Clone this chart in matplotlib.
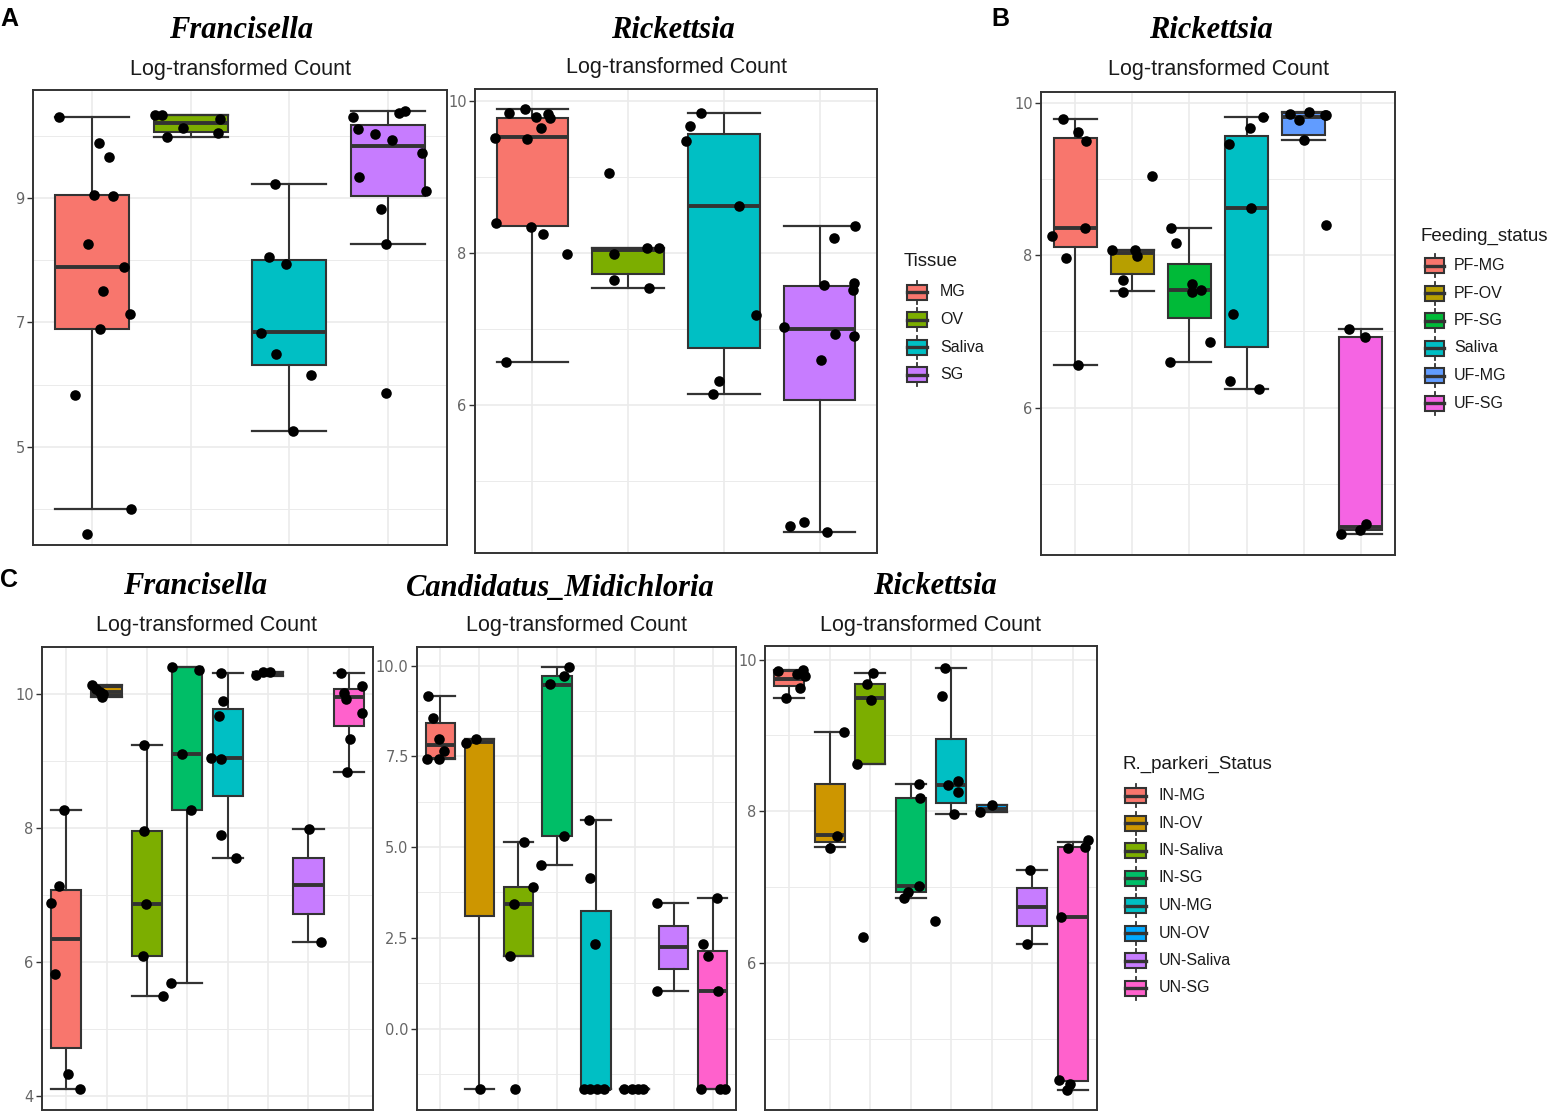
import matplotlib
matplotlib.use("Agg")
import matplotlib.pyplot as plt
from matplotlib.patches import Rectangle
from matplotlib.lines import Line2D

W, H = 1550, 1114

# ---------------- colours (ggplot hue palettes) ----------------
pal4 = ["#F8766D", "#7CAE00", "#00BFC4", "#C77CFF"]
pal6 = ["#F8766D", "#B79F00", "#00BA38", "#00BFC4", "#619CFF", "#F564E3"]
pal8 = ["#F8766D", "#CD9600", "#7CAE00", "#00BE67", "#00BFC4", "#00A9FF", "#C77CFF", "#FF61CC"]

# ---------------- Panel A (Tissue) ----------------
tissue_cats = ["MG", "OV", "Saliva", "SG"]

# A1: Francisella
A1_whishi = [10.31, 10.34, 9.23, 10.41]
A1_q3 = [9.05, 10.33, 8.01, 10.17]
A1_med = [7.89, 10.21, 6.84, 9.84]
A1_q1 = [6.89, 10.06, 6.32, 9.04]
A1_whislo = [4.00, 9.98, 5.25, 8.26]
A1_points = [
    [10.31, 9.89, 9.67, 9.05, 9.04, 8.26, 7.89, 7.51, 7.14, 6.89, 5.83, 4.00, 3.59],
    [10.33, 10.33, 10.13, 10.28, 10.05, 9.98],
    [9.23, 8.06, 7.94, 6.83, 6.49, 6.15, 5.25],
    [10.31, 10.37, 10.41, 10.12, 10.04, 9.94, 9.72, 9.34, 9.12, 8.82, 8.26, 5.86],
]
A1_jitter = [
    [-0.34, 0.07, 0.17, 0.02, 0.21, -0.04, 0.32, 0.11, 0.38, 0.08, -0.17, 0.39, -0.05],
    [-0.36, -0.29, -0.08, 0.30, 0.28, -0.24],
    [-0.14, -0.21, -0.03, -0.29, -0.13, 0.22, 0.04],
    [-0.35, 0.11, 0.17, -0.30, -0.13, 0.04, 0.35, -0.29, 0.39, -0.07, -0.02, -0.02],
]

# A2: Rickettsia
A2_whishi = [9.90, 8.07, 9.85, 8.36]
A2_q3 = [9.78, 8.07, 9.57, 7.57]
A2_med = [9.53, 8.04, 8.62, 7.00]
A2_q1 = [8.35, 7.73, 6.75, 6.07]
A2_whislo = [6.57, 7.54, 6.15, 4.32]
A2_points = [
    [9.85, 9.90, 9.79, 9.83, 9.78, 9.64, 9.52, 9.50, 8.40, 8.34, 8.25, 7.99, 6.57],
    [9.06, 7.99, 8.07, 8.07, 7.64, 7.54],
    [9.85, 9.67, 9.48, 8.62, 7.18, 6.31, 6.15],
    [8.36, 8.20, 7.58, 7.60, 7.51, 7.03, 6.93, 6.91, 6.59, 4.40, 4.46, 4.32],
]
A2_jitter = [
    [-0.24, -0.08, 0.04, 0.16, 0.18, 0.09, -0.39, -0.06, -0.38, -0.02, 0.11, 0.36, -0.28],
    [-0.20, -0.15, 0.20, 0.32, -0.15, 0.22],
    [-0.24, -0.35, -0.40, 0.16, 0.34, -0.05, -0.11],
    [0.37, 0.15, 0.05, 0.36, 0.35, -0.37, 0.16, 0.36, 0.01, -0.31, -0.16, 0.08],
]

# ---------------- Panel B (Feeding_status) ----------------
feed_cats = ["PF-MG", "PF-OV", "PF-SG", "Saliva", "UF-MG", "UF-SG"]
B_whishi = [9.79, 8.07, 8.36, 9.82, 9.89, 7.03]
B_q3 = [9.55, 8.07, 7.89, 9.57, 9.88, 6.93]
B_med = [8.36, 8.03, 7.54, 8.63, 9.82, 4.43]
B_q1 = [8.11, 7.76, 7.18, 6.79, 9.58, 4.39]
B_whislo = [6.56, 7.53, 6.60, 6.25, 9.52, 4.33]
B_points = [
    [9.79, 9.62, 9.50, 8.36, 8.25, 7.97, 6.56],
    [9.05, 8.07, 8.07, 7.99, 7.68, 7.52],
    [8.36, 8.17, 7.62, 7.52, 7.54, 6.86, 6.60],
    [9.82, 9.68, 9.47, 8.62, 7.23, 6.35, 6.25],
    [9.86, 9.78, 9.89, 9.85, 9.85, 9.52, 8.40],
    [7.03, 6.93, 4.47, 4.39, 4.33],
]
B_jitter = [
    [-0.21, 0.05, 0.19, 0.17, -0.41, -0.16, 0.04],
    [0.34, -0.35, 0.05, 0.09, -0.16, -0.16],
    [-0.32, -0.23, 0.05, 0.05, 0.20, 0.36, -0.34],
    [0.28, 0.06, -0.31, 0.08, -0.23, -0.29, 0.21],
    [-0.24, -0.09, 0.09, 0.37, 0.40, 0.01, 0.39],
    [-0.20, 0.07, 0.10, -0.01, -0.34],
]

# ---------------- Panel C (R._parkeri_Status) ----------------
status_cats = ["IN-MG", "IN-OV", "IN-Saliva", "IN-SG", "UN-MG", "UN-OV", "UN-Saliva", "UN-SG"]

# C1: Francisella
C1_whishi = [8.26, 10.13, 9.24, 10.40, 10.31, 10.33, 7.98, 10.31]
C1_q3 = [7.08, 10.10, 7.96, 10.40, 9.78, 10.32, 7.55, 10.07]
C1_med = [6.34, 10.03, 6.87, 9.10, 9.05, 10.31, 7.15, 9.95]
C1_q1 = [4.71, 9.98, 6.09, 8.26, 8.47, 10.28, 6.72, 9.52]
C1_whislo = [4.10, 9.95, 5.49, 5.68, 7.55, 10.27, 6.30, 8.83]
C1_points = [
    [8.27, 7.14, 6.88, 5.82, 4.33, 4.10],
    [10.13, 10.08, 10.03, 9.95, 10.00],
    [9.24, 7.96, 6.87, 6.09, 5.49],
    [10.40, 10.36, 9.10, 8.27, 5.68],
    [10.31, 9.89, 9.67, 9.05, 9.03, 7.89, 7.55],
    [10.28, 10.32, 10.32],
    [7.98, 6.30],
    [10.31, 10.12, 10.01, 9.92, 9.72, 9.33, 8.83],
]
C1_jitter = [
    [-0.05, -0.18, -0.37, -0.29, 0.05, 0.33],
    [-0.37, -0.25, -0.17, -0.12, -0.08],
    [-0.07, -0.08, -0.02, -0.10, 0.39],
    [-0.38, 0.28, -0.13, 0.09, -0.40],
    [-0.17, -0.12, -0.21, -0.41, -0.17, -0.17, 0.21],
    [-0.30, -0.12, 0.05],
    [0.02, 0.31],
    [-0.20, 0.32, -0.13, -0.07, 0.32, 0.02, -0.05],
]

# C2: Candidatus_Midichloria
C2_whishi = [9.17, 7.99, 5.13, 9.96, 5.75, -1.67, 3.46, 3.59]
C2_q3 = [8.42, 7.99, 3.90, 9.71, 3.23, -1.67, 2.84, 2.15]
C2_med = [7.82, 7.89, 3.44, 9.46, -1.67, -1.67, 2.26, 1.04]
C2_q1 = [7.45, 3.11, 2.01, 5.31, -1.67, -1.67, 1.64, -1.67]
C2_whislo = [7.43, -1.67, 2.01, 4.51, -1.67, -1.67, 1.04, -1.67]
C2_points = [
    [9.17, 8.56, 7.99, 7.64, 7.43, 7.43],
    [7.87, 7.99, -1.67],
    [5.13, 3.90, 3.44, 2.01, -1.67],
    [9.96, 9.72, 9.48, 5.31, 4.51],
    [5.75, 4.16, 2.33, -1.67, -1.67, -1.67, -1.67],
    [-1.67, -1.67, -1.67, -1.67],
    [3.46, 1.04],
    [3.59, 2.33, 2.01, 1.04, -1.67, -1.67, -1.67],
]
C2_jitter = [
    [-0.32, -0.20, -0.03, 0.10, -0.34, -0.04],
    [-0.33, -0.09, 0.03],
    [0.16, 0.37, -0.10, -0.22, -0.09],
    [0.30, 0.17, -0.17, 0.19, -0.40],
    [-0.17, -0.16, -0.02, -0.32, -0.15, 0.03, 0.20],
    [-0.29, -0.08, 0.09, 0.22],
    [-0.42, -0.42],
    [0.11, -0.26, -0.13, 0.15, -0.29, 0.20, 0.33],
]

# C3: Rickettsia
C3_whishi = [9.87, 9.05, 9.83, 8.36, 9.89, 8.08, 7.23, 7.60]
C3_q3 = [9.85, 8.36, 9.68, 8.17, 8.95, 8.08, 6.99, 7.53]
C3_med = [9.74, 7.69, 9.49, 7.02, 8.35, 8.03, 6.74, 6.61]
C3_q1 = [9.65, 7.60, 8.62, 6.93, 8.11, 7.99, 6.49, 4.44]
C3_whislo = [9.49, 7.53, 8.62, 6.86, 7.97, 7.99, 6.25, 4.33]
C3_points = [
    [9.85, 9.87, 9.81, 9.78, 9.62, 9.49],
    [9.05, 7.68, 7.52],
    [9.83, 9.68, 9.47, 8.62, 6.34],
    [8.36, 8.18, 7.02, 6.94, 6.86],
    [9.89, 9.52, 8.35, 8.40, 8.25, 7.97, 6.55],
    [7.99, 8.08],
    [7.23, 6.25],
    [7.62, 7.53, 7.52, 6.61, 4.46, 4.40, 4.33],
]
C3_jitter = [
    [-0.29, 0.35, 0.18, 0.39, 0.26, -0.07],
    [0.35, 0.18, 0.00],
    [0.06, -0.07, 0.01, -0.34, -0.17],
    [0.20, 0.24, 0.20, -0.07, -0.16],
    [-0.16, -0.22, -0.07, 0.17, 0.17, 0.07, -0.39],
    [-0.30, 0.00],
    [-0.06, -0.14],
    [0.37, 0.30, -0.11, -0.29, -0.33, -0.07, -0.15],
]

# ---------------- drawing ----------------
EDGE = "#333333"
GRID = "#EBEBEB"

fig = plt.figure(figsize=(W / 100, H / 100), dpi=100)


def px_axes(l, t, r, b):
    return fig.add_axes([l / W, 1 - b / H, (r - l) / W, (b - t) / H])


def draw_panel(ax, whislo, q1, med, q3, whishi, points, jitter, colors,
               ylim, major, minor, labels):
    n = len(med)
    stats = []
    for i in range(n):
        stats.append(dict(whislo=whislo[i], q1=q1[i], med=med[i], q3=q3[i],
                          whishi=whishi[i], fliers=[]))
    bp = ax.bxp(stats, positions=list(range(1, n + 1)), widths=0.75,
                capwidths=0.75, patch_artist=True, showfliers=False,
                boxprops=dict(edgecolor=EDGE, linewidth=1.5),
                medianprops=dict(color=EDGE, linewidth=2.8, solid_capstyle="butt"),
                whiskerprops=dict(color=EDGE, linewidth=1.5),
                capprops=dict(color=EDGE, linewidth=1.6))
    for patch, c in zip(bp["boxes"], colors):
        patch.set_facecolor(c)
    for i, (vals, jit) in enumerate(zip(points, jitter)):
        ax.scatter([i + 1 + j for j in jit], vals, s=58, color="black",
                   zorder=5, linewidths=0)
    ax.set_xlim(0.4, n + 0.6)
    ax.set_ylim(*ylim)
    ax.set_xticks(list(range(1, n + 1)))
    ax.set_xticklabels([])
    ax.tick_params(axis="x", length=0)
    ax.set_yticks(major)
    ax.set_yticklabels(labels)
    ax.set_yticks(minor, minor=True)
    ax.tick_params(axis="y", which="major", length=4, width=1, color=EDGE,
                   labelsize=10.5, labelcolor="#666666", pad=2)
    ax.tick_params(axis="y", which="minor", length=0)
    ax.grid(True, axis="y", which="major", color=GRID, linewidth=1.2, zorder=0)
    ax.grid(True, axis="y", which="minor", color=GRID, linewidth=0.7, zorder=0)
    ax.grid(True, axis="x", which="major", color=GRID, linewidth=1.2, zorder=0)
    ax.set_axisbelow(True)
    for s in ax.spines.values():
        s.set_color(EDGE)
        s.set_linewidth(1.4)


axA1 = px_axes(33, 90, 447, 545)
draw_panel(axA1, A1_whislo, A1_q1, A1_med, A1_q3, A1_whishi, A1_points, A1_jitter,
           pal4, (3.42, 10.74), [5, 7, 9], [4, 6, 8, 10], ["5", "7", "9"])

axA2 = px_axes(475, 89, 877, 553)
draw_panel(axA2, A2_whislo, A2_q1, A2_med, A2_q3, A2_whishi, A2_points, A2_jitter,
           pal4, (4.05, 10.16), [6, 8, 10], [5, 7, 9], ["6", "8", "10"])

axB = px_axes(1041, 92, 1395, 555)
draw_panel(axB, B_whislo, B_q1, B_med, B_q3, B_whishi, B_points, B_jitter,
           pal6, (4.06, 10.15), [6, 8, 10], [5, 7, 9], ["6", "8", "10"])

axC1 = px_axes(42, 647, 373, 1110)
draw_panel(axC1, C1_whislo, C1_q1, C1_med, C1_q3, C1_whishi, C1_points, C1_jitter,
           pal8, (3.79, 10.70), [4, 6, 8, 10], [5, 7, 9], ["4", "6", "8", "10"])

axC2 = px_axes(417, 647, 736, 1110)
draw_panel(axC2, C2_whislo, C2_q1, C2_med, C2_q3, C2_whishi, C2_points, C2_jitter,
           pal8, (-2.24, 10.51), [0, 2.5, 5, 7.5, 10], [-1.25, 1.25, 3.75, 6.25, 8.75],
           ["0.0", "2.5", "5.0", "7.5", "10.0"])

axC3 = px_axes(765, 646, 1097, 1110)
draw_panel(axC3, C3_whislo, C3_q1, C3_med, C3_q3, C3_whishi, C3_points, C3_jitter,
           pal8, (4.06, 10.18), [6, 8, 10], [5, 7, 9], ["6", "8", "10"])

# ---------------- overlay for text and legends ----------------
ov = fig.add_axes([0, 0, 1, 1], zorder=10)
ov.set_xlim(0, W)
ov.set_ylim(H, 0)
ov.axis("off")
ov.patch.set_alpha(0)

TITLE = dict(family="Liberation Serif", weight="bold", style="italic", size=22,
             ha="center", va="center", color="black")
SUB = dict(family="Liberation Sans", size=15.5, ha="center", va="center", color="#1a1a1a")
LETTER = dict(family="Liberation Sans", weight="bold", size=18, ha="left", va="center",
              color="black")

titles = [("Francisella", 241, 31, 240, 69),
          ("Rickettsia", 673, 31, 676, 68),
          ("Rickettsia", 1211, 31, 1218, 70),
          ("Francisella", 195, 587, 207, 626),
          ("Candidatus_Midichloria", 560, 588, 576, 626),
          ("Rickettsia", 935, 586, 931, 626)]
for t, tx, ty, sx, sy in titles:
    ov.text(tx, ty, t, **TITLE)
    ov.text(sx, sy, "Log-transformed Count", **SUB)

ov.text(0, 19, "A", **LETTER)
ov.text(991, 19, "B", **LETTER)
ov.text(0, 580, "C", **LETTER)


def legend(title, tx, ty, cats, colors, kx0, kx1, ys, lx):
    ov.text(tx, ty, title, family="Liberation Sans", size=13.5, ha="left",
            va="center", color="#1a1a1a")
    for c, col, y in zip(cats, colors, ys):
        ov.add_patch(Rectangle((kx0, y - 7.5), kx1 - kx0, 15, facecolor=col,
                               edgecolor=EDGE, linewidth=1.5, zorder=3))
        xm = (kx0 + kx1) / 2
        ov.add_line(Line2D([kx0, kx1], [y, y], color=EDGE, linewidth=2.4, zorder=4))
        ov.add_line(Line2D([xm, xm], [y - 11.5, y - 7.5], color=EDGE, linewidth=1.3))
        ov.add_line(Line2D([xm, xm], [y + 7.5, y + 11.5], color=EDGE, linewidth=1.3))
        ov.text(lx, y, c, family="Liberation Sans", size=11.5, ha="left",
                va="center", color="#1a1a1a")


legend("Tissue", 904, 262, tissue_cats, pal4, 907, 927,
       [292, 319.5, 347, 374.5], 940)
legend("Feeding_status", 1421, 236, feed_cats, pal6, 1425, 1444,
       [265.5, 293, 320.5, 348, 375.5, 403], 1454)
legend("R._parkeri_Status", 1122, 764, status_cats, pal8, 1125, 1146,
       [795.5, 823, 850.5, 878, 905.5, 933, 960.5, 988], 1159)

fig.savefig("out.png", dpi=100)
